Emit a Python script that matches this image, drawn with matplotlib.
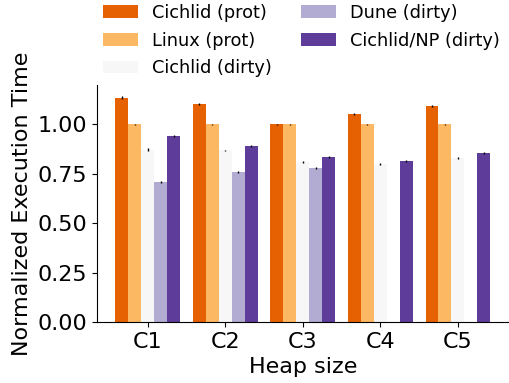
import numpy as np
import matplotlib
matplotlib.use('Agg')
import matplotlib.pyplot as plt

heap_sizes = ['C1', 'C2', 'C3', 'C4', 'C5']
series_names = ['Cichlid (prot)', 'Linux (prot)', 'Cichlid (dirty)', 'Dune (dirty)', 'Cichlid/NP (dirty)']
colors = ['#e66101', '#fdb863', '#f7f7f7', '#b2abd2', '#5e3c99']

cichlid_prot = [1.136, 1.105, 1.0, 1.055, 1.095]
linux_prot = [1.0, 1.0, 1.0, 1.0, 1.0]
cichlid_dirty = [0.873, 0.868, 0.809, 0.799, 0.829]
dune_dirty = [0.708, 0.759, 0.777, 0.0, 0.0]
cichlid_np_dirty = [0.940, 0.889, 0.834, 0.814, 0.854]

cichlid_prot_err = [0.006, 0.005, 0.004, 0.005, 0.005]
linux_prot_err = [0.004, 0.004, 0.004, 0.004, 0.004]
cichlid_dirty_err = [0.006, 0.005, 0.005, 0.005, 0.005]
dune_dirty_err = [0.005, 0.005, 0.005, 0.0, 0.0]
cichlid_np_dirty_err = [0.005, 0.005, 0.005, 0.005, 0.005]

values = [cichlid_prot, linux_prot, cichlid_dirty, dune_dirty, cichlid_np_dirty]
errors = [cichlid_prot_err, linux_prot_err, cichlid_dirty_err, dune_dirty_err, cichlid_np_dirty_err]

plt.rcParams['font.size'] = 16

fig = plt.figure(figsize=(5.09, 3.83), dpi=100)
ax = fig.add_axes([0.19, 0.159, 0.81, 0.619])

x = np.arange(len(heap_sizes))
width = 0.167
for i in range(len(values)):
    ax.bar(x + (i - 2) * width, values[i], width, color=colors[i], label=series_names[i],
           yerr=errors[i], ecolor='black', error_kw={'elinewidth': 1})

ax.set_xticks(x)
ax.set_xticklabels(heap_sizes)
ax.set_yticks([0, 0.25, 0.5, 0.75, 1.0])
ax.set_xlabel('Heap size')
ax.set_ylabel('Normalized Execution Time')
ax.spines['top'].set_visible(False)
ax.spines['right'].set_visible(False)

# legend sits above the axes, two columns, no frame
ax.legend(ncol=2, frameon=False, loc='lower left', bbox_to_anchor=(-0.003, 1.002),
          fontsize=12.8, handlelength=2, columnspacing=1.6, labelspacing=0.55, borderaxespad=0)

fig.savefig('out.png', dpi=100)
